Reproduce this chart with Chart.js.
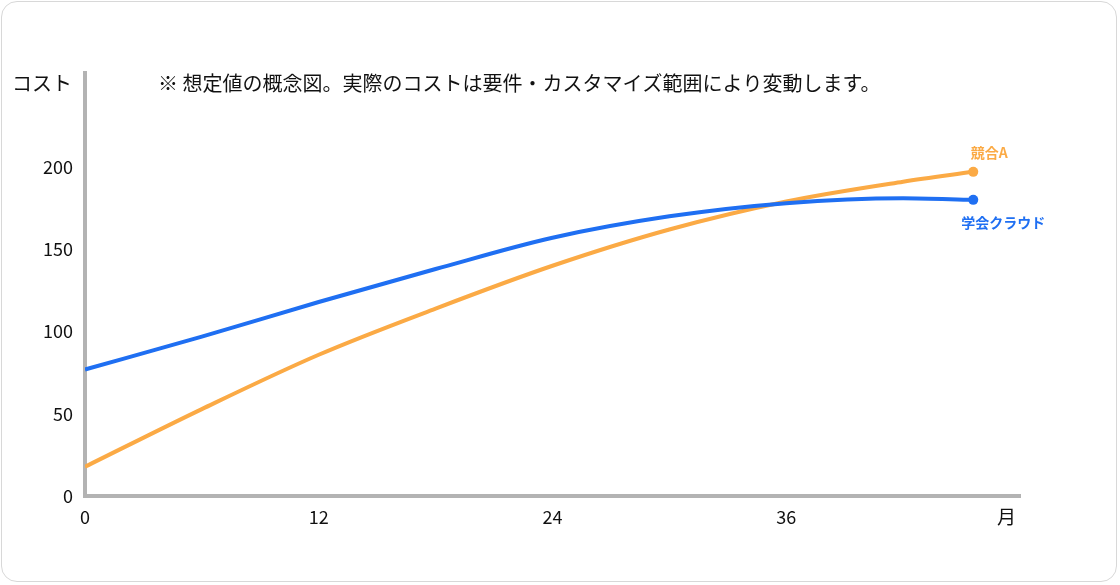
<!DOCTYPE html>
<html><head><meta charset="utf-8">
<script src="https://cdn.jsdelivr.net/npm/chart.js@4"></script>
<style>
html,body{margin:0;background:#fff;}
.card{position:absolute;left:1px;top:1px;width:1116px;height:581px;border:1px solid #d8d8d8;border-radius:16px;box-sizing:border-box;}
canvas{position:absolute;left:0;top:0;}
</style></head><body>
<div class="card"></div>
<canvas id="c" width="1120" height="585"></canvas>
<script>
const months = [0, 6, 12, 18, 24, 30, 36, 42, 45.6];
const cloudCost = [77, 97, 118, 138, 157, 170, 178, 181, 180];
const rivalCost = [18, 53, 86, 114, 140, 162, 179, 191, 197];
const seriesNames = ['学会クラウド', '競合A'];
const xTicks = [0, 12, 24, 36];
const yTicks = [0, 50, 100, 150, 200];
const note = '※ 想定値の概念図。実際のコストは要件・カスタマイズ範囲により変動します。';

const toPts = ys => months.map((m, i) => ({ x: m, y: ys[i] }));
const lastOnly = arr => arr.map((_, i) => i === arr.length - 1 ? 5 : 0);
const font = '"Noto Sans CJK JP", sans-serif';

const endLabels = {
  id: 'endLabels',
  afterDatasetsDraw(chart) {
    const ctx = chart.ctx;
    ctx.save();
    ctx.font = 'bold 14px ' + font;
    ctx.textAlign = 'center';
    chart.data.datasets.forEach((ds, i) => {
      const el = chart.getDatasetMeta(i).data.at(-1);
      ctx.fillStyle = ds.borderColor;
      const dy = i === 1 ? -19 : 23;
      ctx.textBaseline = 'middle';
      ctx.fillText(ds.label, el.x + (i === 1 ? 16 : 30), el.y + dy);
    });
    ctx.fillStyle = '#111';
    ctx.font = '20px ' + font;
    ctx.textAlign = 'left';
    ctx.fillText('コスト', 12, 83);
    ctx.fillText(note, 158, 83);
    ctx.font = '19px ' + font;
    ctx.fillText('月', 997, 517);
    ctx.restore();
  }
};

new Chart(document.getElementById('c'), {
  type: 'line',
  data: {
    datasets: [
      { label: seriesNames[0], data: toPts(cloudCost), borderColor: '#1f6ff2', backgroundColor: '#1f6ff2',
        borderWidth: 4, pointRadius: lastOnly(months), pointBorderWidth: 0, cubicInterpolationMode: 'monotone' },
      { label: seriesNames[1], data: toPts(rivalCost), borderColor: '#fbaa45', backgroundColor: '#fbaa45',
        borderWidth: 4, pointRadius: lastOnly(months), pointBorderWidth: 0, cubicInterpolationMode: 'monotone' }
    ]
  },
  options: {
    responsive: false,
    animation: false,
    layout: { padding: { left: 31, right: 100, top: 73, bottom: 47 } },
    plugins: { legend: { display: false }, tooltip: { enabled: false } },
    scales: {
      x: {
        type: 'linear', min: 0, max: 48,
        afterBuildTicks: s => { s.ticks = xTicks.map(v => ({ value: v })); },
        grid: { display: false, drawTicks: false },
        border: { color: '#b3b3b3', width: 4 },
        ticks: { color: '#111', font: { size: 18, family: font }, padding: 10 }
      },
      y: {
        min: 0, max: 257,
        afterBuildTicks: s => { s.ticks = yTicks.map(v => ({ value: v })); },
        grid: { display: false, drawTicks: false },
        border: { color: '#b3b3b3', width: 4 },
        ticks: { color: '#111', font: { size: 18, family: font }, padding: 12 }
      }
    }
  },
  plugins: [endLabels]
});
</script>
</body></html>
